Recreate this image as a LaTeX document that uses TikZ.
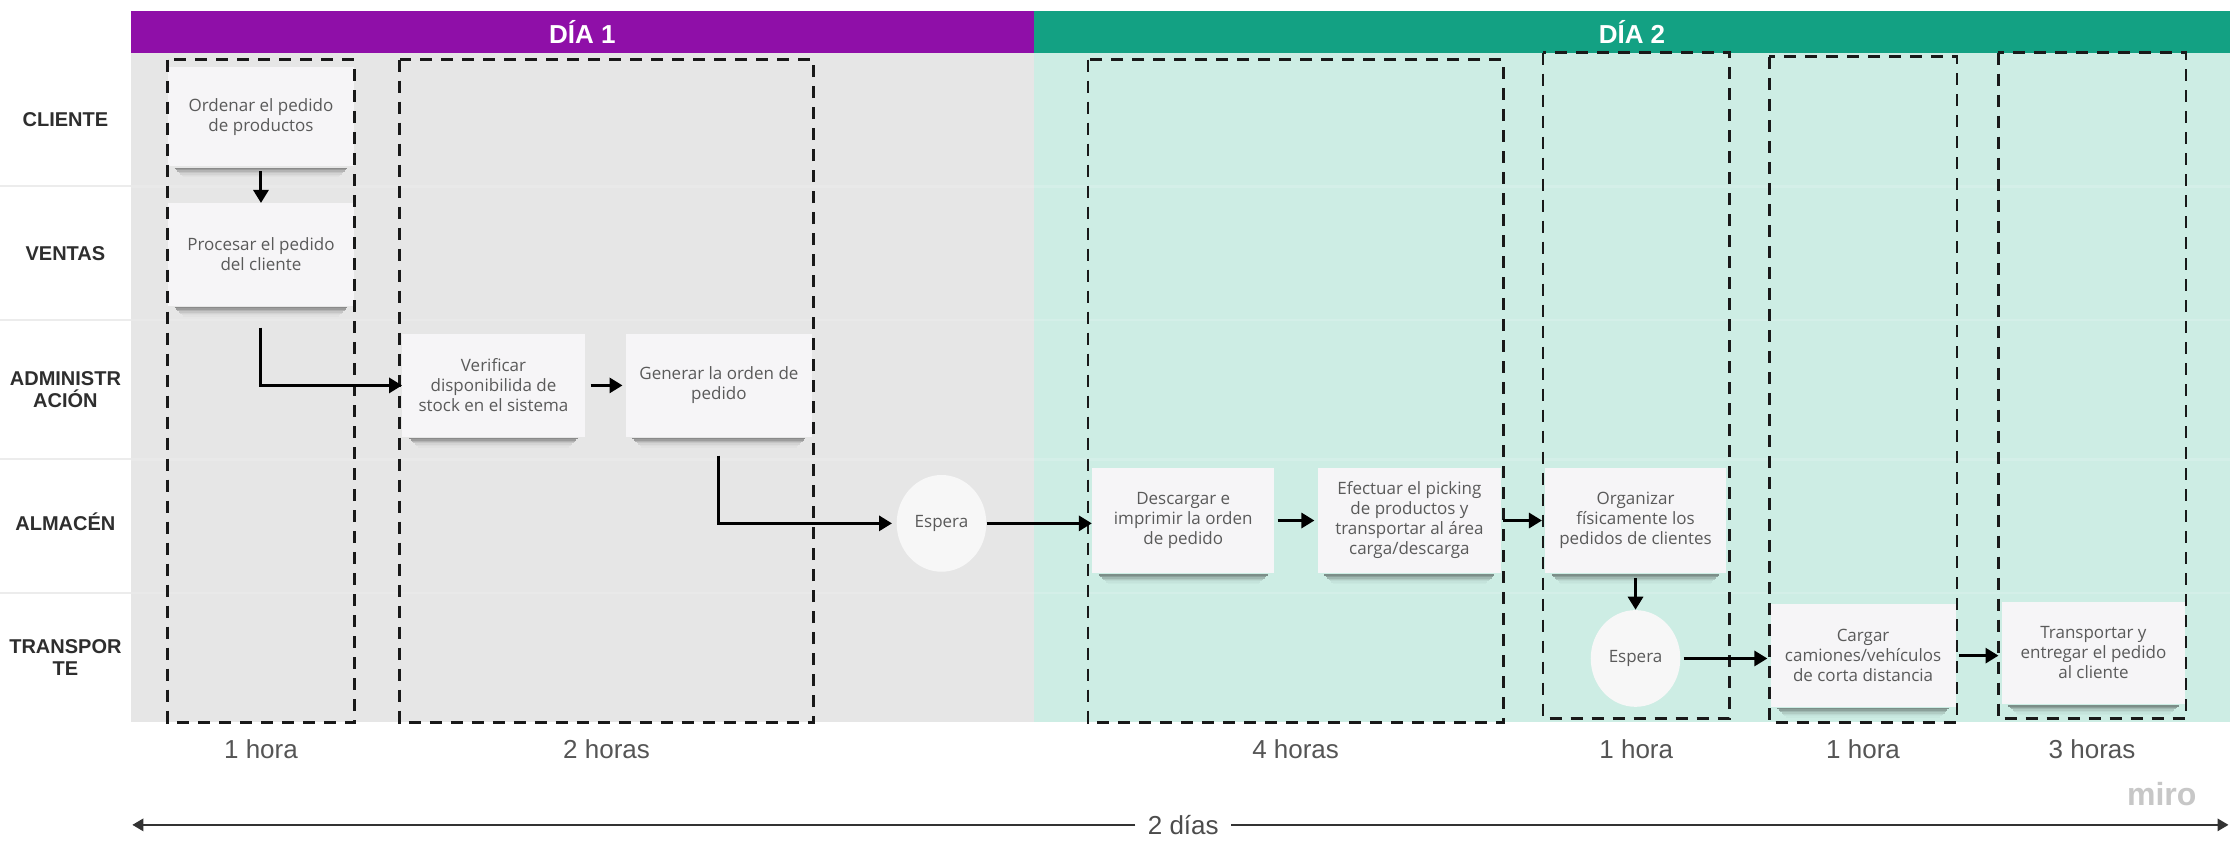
\documentclass[tikz,border=0pt]{standalone}
\usepackage{fontspec}
\setmainfont{Liberation Sans}
\newfontfamily\cardfont{Open Sans}
\usetikzlibrary{arrows.meta,calc,shapes.geometric}

% one drawing unit
\newdimen\dpx \dpx=0.71111pt

\definecolor{dayone}{HTML}{8F0FA8}
\definecolor{daytwo}{HTML}{13A183}
\definecolor{greyzone}{HTML}{E6E6E6}
\definecolor{mintzone}{HTML}{CDEDE4}
\definecolor{cardfill}{HTML}{F6F5F7}
\definecolor{cardtext}{HTML}{5A5A5A}
\definecolor{lanetext}{HTML}{2E2E2E}
\definecolor{durtext}{HTML}{555555}
\definecolor{laneline}{HTML}{ECECEC}

\tikzset{
  card/.style={fill=cardfill, inner sep=1pt, align=center,
    font=\cardfont\fontsize{8.5}{10}\selectfont, text=cardtext},
  waitnode/.style={ellipse, fill=white!97!black, minimum width=63\dpx,
    minimum height=68\dpx, inner sep=0pt,
    font=\cardfont\fontsize{8.5}{10}\selectfont, text=cardtext},
  stage/.style={draw=black!90, line width=1.4pt, dash pattern=on 6pt off 4.5pt},
  flow/.style={line width=1.5pt, -{Triangle[length=6.5pt,width=7.5pt]}},
  lane/.style={font=\bfseries\fontsize{10}{11}\selectfont, text=lanetext, align=center},
  dayhead/.style={font=\bfseries\fontsize{13}{15}\selectfont, text=white},
  dur/.style={font=\fontsize{13}{15}\selectfont, text=durtext},
  span/.style={line width=1.35pt, draw=black!80, -{Triangle[length=5.5pt,width=6pt]}},
}

% soft shadow under a card
\newcommand\cardshadow[1]{%
  \foreach \k/\o in {1/0.40,2/0.32,3/0.22,4/0.14,5/0.08,6/0.04,7/0.02}{%
    \draw[black, opacity=\o, line width=1\dpx]
      ($(#1.south west)+(4+\k,\k)$) -- ($(#1.south east)+(-4-\k,\k)$);
  }}

\begin{document}
\begin{tikzpicture}[x=\dpx, y={(0pt,-0.71111pt)}]
\useasboundingbox (0,0) rectangle (1568,591);
\fill[white] (0,0) rectangle (1568,591);

% day zones and headers
\fill[greyzone] (92,37) rectangle (727,508);
\fill[mintzone] (727,37) rectangle (1568,508);
\fill[dayone] (92,8) rectangle (727,37.5);
\fill[daytwo] (727,8) rectangle (1568,37.5);
\node[dayhead] (d1) at (409.5,22.5) {DÍA 1};
\node[dayhead] (d2) at (1147.5,22.5) {DÍA 2};

% lane separators
\foreach \yy in {131,225,323,417}{
  \draw[laneline, line width=1.5\dpx] (0,\yy) -- (92,\yy);
  \draw[white, opacity=0.15, line width=2\dpx] (92,\yy) -- (1568,\yy);
}

% lane names
\node[lane] (lcli) at (46,84) {CLIENTE};
\node[lane] (lven) at (46,178) {VENTAS};
\node[lane] (ladm) at (46,274) {ADMINISTR\\ACIÓN};
\node[lane] (lalm) at (46,367) {ALMACÉN};
\node[lane] (ltra) at (46,462) {TRANSPOR\\TE};

% process cards
\node[card, minimum width=131\dpx, minimum height=70\dpx] (p1) at (183.5,82) {Ordenar el pedido\\de productos};
\node[card, minimum width=131\dpx, minimum height=72\dpx] (p2) at (183.5,179) {Procesar el pedido\\del cliente};
\node[card, minimum width=128\dpx, minimum height=72\dpx] (p3) at (347,271) {Verificar\\disponibilida de\\stock en el sistema};
\node[card, minimum width=131\dpx, minimum height=72\dpx] (p4) at (505.5,271) {Generar la orden de\\pedido};
\node[card, minimum width=128\dpx, minimum height=74\dpx] (p5) at (832,366) {Descargar e\\imprimir la orden\\de pedido};
\node[card, minimum width=129\dpx, minimum height=74\dpx] (p6) at (991,366) {Efectuar el picking\\de productos y\\transportar al área\\carga/descarga};
\node[card, minimum width=127\dpx, minimum height=74\dpx] (p7) at (1150,366) {Organizar\\físicamente los\\pedidos de clientes};
\node[card, minimum width=130\dpx, minimum height=72\dpx] (p8) at (1310,461) {Cargar\\camiones/vehículos\\de corta distancia};
\node[card, minimum width=129\dpx, minimum height=72\dpx] (p9) at (1472,459) {Transportar y\\entregar el pedido\\al cliente};
\foreach \c in {p1,p2,p3,p4,p5,p6,p7,p8,p9}{\cardshadow{\c}}

% waiting points
\node[waitnode] (e1) at (662,368) {Espera};
\node[waitnode] (e2) at (1150,463) {Espera};

% time windows
\draw[stage] (118,42) rectangle (249,508);
\draw[stage] (281,42) rectangle (572,508);
\draw[stage] (765,42) rectangle (1057,508);
\draw[stage] (1085,37) rectangle (1216,505);
\draw[stage] (1244,40) rectangle (1376,508);
\draw[stage] (1405,37) rectangle (1537,505);

% durations
\node[dur] (t1) at (183.5,527) {1 hora};
\node[dur] (t2) at (426.5,527) {2 horas};
\node[dur] (t3) at (911,527) {4 horas};
\node[dur] (t4) at (1150.5,527) {1 hora};
\node[dur] (t5) at (1310,527) {1 hora};
\node[dur] (t6) at (1471,527) {3 horas};

% flow
\draw[flow] ($(p1.south)+(0,3)$) -- (p2.north);
\draw[flow] ($(p2.south)+(0,15)$) |- (p3.west);
\draw[flow] ($(p3.east)+(4,0)$) -- ($(p4.west)+(-2,0)$);
\draw[flow] ($(p4.south)+(0,13)$) |- ($(e1.west)+(-3,0)$);
\draw[flow] (e1.east) -- (e1.east -| p5.west);
\draw[flow] ($(p5.east)+(2,0)$) -- ($(p6.west)+(-2,0)$);
\draw[flow] ($(p6.east)+(1,0)$) -- ($(p7.west)+(-2,0)$);
\draw[flow] ($(p7.south)+(0,3)$) -- (e2.north);
\draw[flow] ($(e2.east)+(2,0)$) -- ($(e2.east -| p8.west)+(-2,0)$);
\draw[flow] ($(p8.east)+(2,0)$) -- ($(p8.east -| p9.west)+(-2,0)$);

% overall span
\node[dur, text=black!70, inner xsep=6pt] (total) at (832,580) {2 días};
\coordinate (spanl) at (93,580);
\coordinate (spanr) at (1567,580);
\draw[span] (total.west) -- (spanl);
\draw[span] (total.east) -- (spanr);

\node[font=\bfseries\fontsize{16}{18}\selectfont, text=black!22] (brand) at (1520,558) {miro};
\end{tikzpicture}
\end{document}
